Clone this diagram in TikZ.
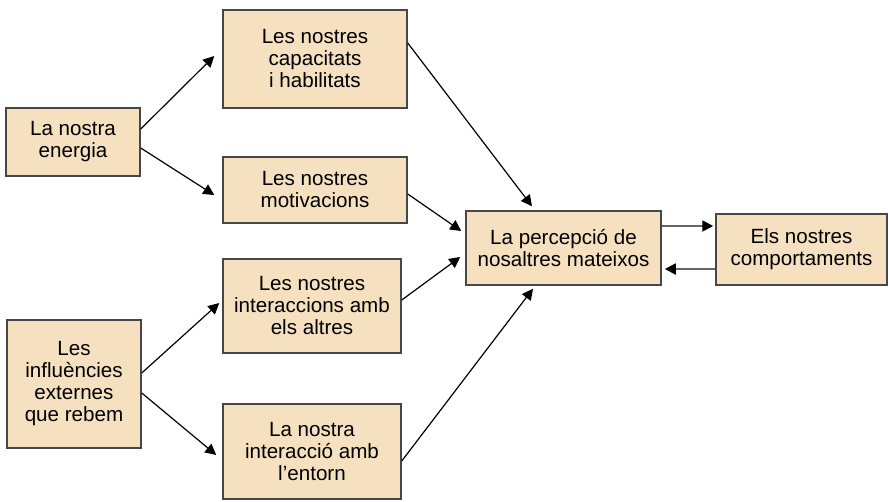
\documentclass[tikz,border=0pt]{standalone}
\usepackage{fontspec}
\setmainfont{Liberation Sans}
\usetikzlibrary{arrows.meta}
\definecolor{beix}{RGB}{245,225,192}
\begin{document}
\begin{tikzpicture}[x=1pt,y=-1pt,
	caixa/.style={draw=black!72,line width=1.5pt,fill=beix,align=center,inner sep=0pt,
		font=\fontsize{20.6}{22}\selectfont},
	fletxa/.style={-{Triangle[length=11pt,width=11pt]},line width=1.2pt},
	fletxagris/.style={-{Triangle[length=11pt,width=11pt,black]},draw=black!60,line width=1.8pt}]
	\useasboundingbox (0,0) rectangle (888,501);
	% caixes
	\node[caixa,minimum width=134pt,minimum height=68pt] (energia) at (73,142) {La nostra\\energia};
	\node[caixa,minimum width=134pt,minimum height=128pt] (influencies) at (74,384) {Les\\influències\\externes\\que rebem};
	\node[caixa,minimum width=184pt,minimum height=98pt] (capacitats) at (315,59) {Les nostres\\capacitats\\i habilitats};
	\node[caixa,minimum width=184pt,minimum height=66pt] (motivacions) at (315,190) {Les nostres\\motivacions};
	\node[caixa,minimum width=178pt,minimum height=94pt] (interaccions) at (312,306) {Les nostres\\interaccions amb\\els altres};
	\node[caixa,minimum width=178pt,minimum height=95pt] (entorn) at (312,451.5) {La nostra\\interacció amb\\l’entorn};
	\node[caixa,minimum width=195pt,minimum height=74pt] (percepcio) at (563.5,248) {La percepció de\\nosaltres mateixos};
	\node[caixa,minimum width=171pt,minimum height=71pt] (comportaments) at (801.5,249.5) {Els nostres\\comportaments};
	% fletxes
	\draw[fletxa] ([yshift=13pt]energia.east) -- ([xshift=-8pt,yshift=3pt]capacitats.west);
	\draw[fletxa] ([yshift=-6pt]energia.east) -- ([xshift=-8pt,yshift=-5pt]motivacions.west);
	\draw[fletxa] ([yshift=11pt]influencies.east) -- ([xshift=-3pt,yshift=3pt]interaccions.west);
	\draw[fletxa] ([yshift=-9pt]influencies.east) -- ([xshift=-6pt,yshift=-3.5pt]entorn.west);
	\draw[fletxa] ([yshift=16pt]capacitats.east) -- ([xshift=-31.5pt,yshift=4pt]percepcio.north);
	\draw[fletxa] ([yshift=-4pt]motivacions.east) -- ([xshift=-4pt,yshift=17pt]percepcio.west);
	\draw[fletxa] ([yshift=6pt]interaccions.east) -- ([xshift=-5pt,yshift=-9pt]percepcio.west);
	\draw[fletxa] ([yshift=-9.5pt]entorn.east) -- ([xshift=-30.5pt,yshift=-3pt]percepcio.south);
	\draw[fletxagris] ([yshift=22pt]percepcio.east) -- ([xshift=-2pt,yshift=23.5pt]comportaments.west);
	\draw[fletxagris] ([yshift=-19.5pt]comportaments.west) -- ([xshift=3pt,yshift=-21pt]percepcio.east);
\end{tikzpicture}
\end{document}
